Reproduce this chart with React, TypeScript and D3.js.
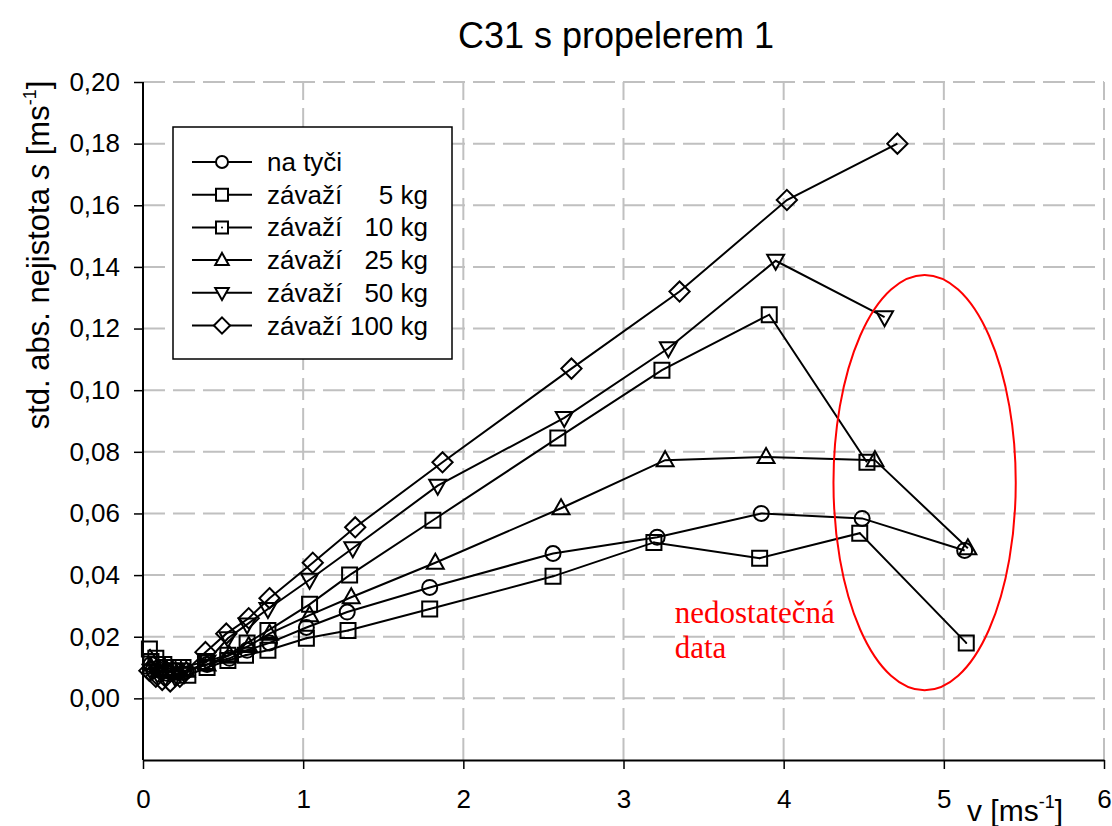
import React, { useEffect, useRef } from 'react';
import * as d3 from 'd3';

// values
const vNaTyci = [0.05, 0.1, 0.15, 0.2, 0.27, 0.4, 0.54, 0.65, 0.79, 1.02, 1.275, 1.79, 2.56, 3.21, 3.86, 4.49, 5.13];
const sNaTyci = [0.011, 0.010, 0.009, 0.009, 0.009, 0.011, 0.013, 0.0156, 0.018, 0.023, 0.028, 0.036, 0.047, 0.0523, 0.060, 0.0584, 0.048];

const v5kg = [0.04, 0.08, 0.13, 0.19, 0.25, 0.39, 0.53, 0.65, 0.78, 1.04, 1.29, 1.81, 2.59, 3.24, 3.91, 4.52];
const s5kg = [0.016, 0.013, 0.011, 0.010, 0.010, 0.012, 0.014, 0.018, 0.022, 0.0305, 0.040, 0.0578, 0.0845, 0.1065, 0.1245, 0.0766];

const v10kg = [0.05, 0.09, 0.14, 0.2, 0.28, 0.4, 0.53, 0.64, 0.78, 1.02, 1.28, 1.79, 2.56, 3.19, 3.85, 4.475, 5.14];
const s10kg = [0.012, 0.011, 0.010, 0.009, 0.0075, 0.010, 0.0123, 0.014, 0.0156, 0.0195, 0.022, 0.029, 0.0396, 0.0506, 0.0455, 0.0536, 0.018];

const v25kg = [0.05, 0.1, 0.15, 0.21, 0.27, 0.4, 0.54, 0.66, 0.79, 1.04, 1.30, 1.825, 2.61, 3.26, 3.89, 4.57, 5.15];
const s25kg = [0.010, 0.009, 0.009, 0.008, 0.009, 0.011, 0.014, 0.017, 0.021, 0.027, 0.0328, 0.044, 0.0617, 0.0773, 0.0783, 0.0773, 0.0487];

const v50kg = [0.05, 0.09, 0.14, 0.2, 0.26, 0.4, 0.53, 0.65, 0.78, 1.04, 1.31, 1.84, 2.63, 3.28, 3.95, 4.63];
const s50kg = [0.009, 0.008, 0.007, 0.007, 0.008, 0.012, 0.0195, 0.024, 0.029, 0.0385, 0.0487, 0.069, 0.091, 0.1136, 0.142, 0.1237];

const v100kg = [0.04, 0.08, 0.12, 0.17, 0.23, 0.39, 0.52, 0.66, 0.79, 1.06, 1.325, 1.87, 2.675, 3.35, 4.02, 4.71];
const s100kg = [0.009, 0.007, 0.006, 0.0055, 0.007, 0.015, 0.021, 0.026, 0.0325, 0.044, 0.0555, 0.0766, 0.107, 0.132, 0.1617, 0.180];

const legendNames = ['na tyči', 'závaží', 'závaží', 'závaží', 'závaží', 'závaží'];
const legendWeights = ['', '5 kg', '10 kg', '25 kg', '50 kg', '100 kg'];
const markers = ['circle', 'square', 'squareDot', 'triangle', 'triangleDown', 'diamond'];

const xTicks = [0, 1, 2, 3, 4, 5, 6];
const yTicks = [0, 0.02, 0.04, 0.06, 0.08, 0.1, 0.12, 0.14, 0.16, 0.18, 0.2];

// "nedostatečná data" ellipse, in data units
const noteEllipse = { v: 4.88, s: 0.070, rv: 0.569, rs: 0.0674 };
const notePos = { v: 3.32, s: 0.0245 };

const markerPath = (type: string, k: number) => {
	const p = d3.path();
	if (type === 'circle') {
		p.arc(0, 0, k, 0, Math.PI * 2);
	} else if (type === 'square' || type === 'squareDot') {
		p.rect(-k, -k, 2 * k, 2 * k);
	} else if (type === 'triangle') {
		p.moveTo(0, -k * 1.2); p.lineTo(k * 1.13, k * 0.8); p.lineTo(-k * 1.13, k * 0.8); p.closePath();
	} else if (type === 'triangleDown') {
		p.moveTo(0, k * 1.2); p.lineTo(k * 1.13, -k * 0.8); p.lineTo(-k * 1.13, -k * 0.8); p.closePath();
	} else {
		const d = k * 1.35;
		p.moveTo(0, -d); p.lineTo(d, 0); p.lineTo(0, d); p.lineTo(-d, 0); p.closePath();
	}
	return p.toString();
};

const App = () => {
	const chartRef = useRef<SVGSVGElement>(null);

	useEffect(() => {
		const series = [
			{ v: vNaTyci, s: sNaTyci },
			{ v: v5kg, s: s5kg },
			{ v: v10kg, s: s10kg },
			{ v: v25kg, s: s25kg },
			{ v: v50kg, s: s50kg },
			{ v: v100kg, s: s100kg },
		].map((d, i) => ({ marker: markers[i], points: d.v.map((v, j) => ({ v, s: d.s[j] })) }));

		const svg = d3.select(chartRef.current);
		svg.selectAll('*').remove();

		const x = d3.scaleLinear().domain([0, 6]).range([143, 1104]);
		const y = d3.scaleLinear().domain([-0.02, 0.2]).range([760, 82]);
		const font = '"Liberation Sans", Arial, sans-serif';

		// grid
		const grid = svg.append('g').attr('stroke', '#c0c0c0').attr('stroke-width', 2).attr('stroke-dasharray', '22,8');
		xTicks.filter(t => t > 0).forEach(t => {
			grid.append('line').attr('x1', x(t)).attr('x2', x(t)).attr('y1', y(-0.02)).attr('y2', y(0.2));
		});
		yTicks.forEach(t => {
			grid.append('line').attr('x1', x(0)).attr('x2', x(6)).attr('y1', y(t)).attr('y2', y(t));
		});

		// axes
		const xAxis = svg.append('g')
			.attr('transform', `translate(0,${y(-0.02)})`)
			.call(d3.axisBottom(x).tickValues(xTicks).tickSize(9).tickPadding(21).tickSizeOuter(0).tickFormat(d3.format('d')));
		const yAxis = svg.append('g')
			.attr('transform', `translate(${x(0)},0)`)
			.call(d3.axisLeft(y).tickValues(yTicks).tickSize(9).tickPadding(14).tickSizeOuter(0)
				.tickFormat(d => d3.format('.2f')(d as number).replace('.', ',')));
		[xAxis, yAxis].forEach(a => {
			a.select('.domain').attr('stroke', '#000').attr('stroke-width', 2);
			a.selectAll('.tick line').attr('stroke', '#000').attr('stroke-width', 1.5);
			a.selectAll('.tick text').attr('fill', '#000').style('font-family', font).style('font-size', '26px');
		});
		// extend y axis line down to the x axis
		yAxis.select('.domain').attr('d', `M0,${y(-0.02)}V${y(0.2)}`);

		// lines + markers
		const line = d3.line<{ v: number; s: number }>().x(d => x(d.v)).y(d => y(d.s));
		series.forEach(sr => {
			svg.append('path').datum(sr.points)
				.attr('fill', 'none').attr('stroke', '#000').attr('stroke-width', 2).attr('d', line);
		});
		series.forEach(sr => {
			const g = svg.append('g');
			sr.points.forEach(p => {
				g.append('path')
					.attr('transform', `translate(${x(p.v)},${y(p.s)})`)
					.attr('d', markerPath(sr.marker, 7.5))
					.attr('fill', 'none').attr('stroke', '#000').attr('stroke-width', 2);
				if (sr.marker === 'squareDot') {
					g.append('circle').attr('cx', x(p.v)).attr('cy', y(p.s)).attr('r', 1).attr('fill', '#000');
				}
			});
		});

		// annotation
		svg.append('ellipse')
			.attr('cx', x(noteEllipse.v)).attr('cy', y(noteEllipse.s))
			.attr('rx', x(noteEllipse.v + noteEllipse.rv) - x(noteEllipse.v))
			.attr('ry', y(noteEllipse.s - noteEllipse.rs) - y(noteEllipse.s))
			.attr('fill', 'none').attr('stroke', '#ff0000').attr('stroke-width', 2);
		const note = svg.append('text')
			.attr('x', x(notePos.v)).attr('y', y(notePos.s))
			.attr('fill', '#ff0000')
			.style('font-family', '"Liberation Serif", "Times New Roman", serif')
			.style('font-size', '31px');
		note.append('tspan').text('nedostatečná');
		note.append('tspan').attr('x', x(notePos.v)).attr('dy', 35).text('data');

		// legend
		const legend = svg.append('g');
		legend.append('rect').attr('x', 173).attr('y', 127).attr('width', 279).attr('height', 232)
			.attr('fill', '#fff').attr('stroke', '#000').attr('stroke-width', 1.5);
		markers.forEach((m, i) => {
			const cy = 162 + i * 32.7;
			legend.append('line').attr('x1', 192).attr('x2', 252).attr('y1', cy).attr('y2', cy)
				.attr('stroke', '#000').attr('stroke-width', 2);
			legend.append('path').attr('transform', `translate(222,${cy})`)
				.attr('d', markerPath(m, 6)).attr('fill', '#fff').attr('stroke', '#000').attr('stroke-width', 2);
			if (m === 'squareDot') legend.append('circle').attr('cx', 222).attr('cy', cy).attr('r', 1).attr('fill', '#000');
			legend.append('text').attr('x', 267).attr('y', cy + 9)
				.style('font-family', font).style('font-size', '26px').text(legendNames[i]);
			if (legendWeights[i]) {
				legend.append('text').attr('x', 428).attr('y', cy + 9).attr('text-anchor', 'end')
					.style('font-family', font).style('font-size', '26px').text(legendWeights[i]);
			}
		});

		// title and axis labels
		svg.append('text').attr('x', 616).attr('y', 48).attr('text-anchor', 'middle')
			.style('font-family', font).style('font-size', '36px').text('C31 s propelerem 1');

		const xl = svg.append('text').attr('x', 967).attr('y', 821)
			.style('font-family', font).style('font-size', '30px');
		xl.append('tspan').text('v [ms');
		xl.append('tspan').attr('dy', -13).style('font-size', '18px').text('-1');
		xl.append('tspan').attr('dy', 13).text(']');

		const yl = svg.append('text').attr('transform', 'translate(49,255) rotate(-90)').attr('text-anchor', 'middle')
			.style('font-family', font).style('font-size', '31px');
		yl.append('tspan').text('std. abs. nejistota ');
		yl.append('tspan').style('font-style', 'italic').text('s');
		yl.append('tspan').text(' [ms');
		yl.append('tspan').attr('dy', -13).style('font-size', '18px').text('-1');
		yl.append('tspan').attr('dy', 13).text(']');
	}, []);

	return <svg ref={chartRef} width={1112} height={826} style={{ position: 'absolute', left: 0, top: 0, background: '#fff' }}></svg>;
};

export default App;
